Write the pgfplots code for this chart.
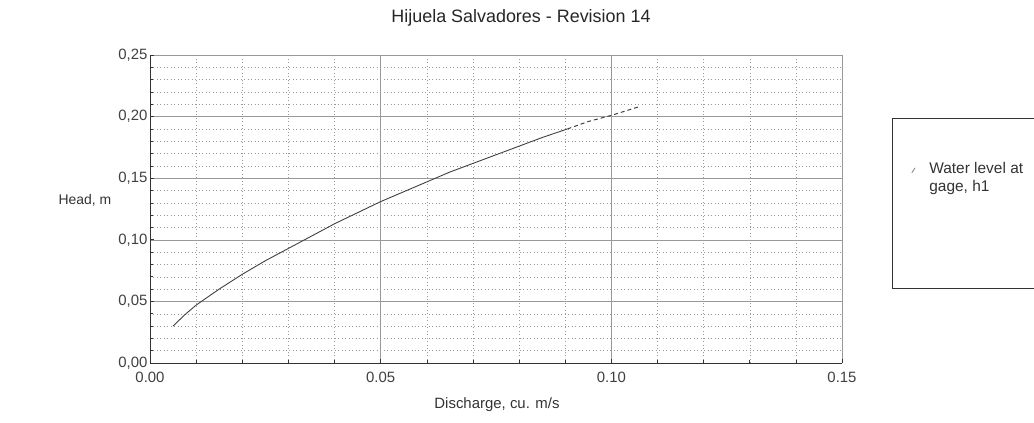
\documentclass[border=0pt]{standalone}
\usepackage{pgfplots}
\pgfplotsset{compat=1.18}
\usepackage{fontspec}
\setmainfont{Liberation Sans}
\begin{document}
\begin{tikzpicture}
\useasboundingbox (0,0) rectangle (1034bp,423bp);
\begin{axis}[
  at={(150bp,60bp)}, anchor=south west,
  width=692bp, height=308bp, scale only axis,
  xmin=0, xmax=0.15, ymin=0, ymax=0.25,
  xtick={0,0.05,0.10,0.15}, ytick={0,0.05,0.10,0.15,0.20,0.25},
  minor x tick num=4, minor y tick num=4,
  scaled ticks=false,
  axis lines*=left,
  axis line style={black!80, line width=0.8pt},
  grid=both,
  major grid style={black!40, line width=0.5pt},
  minor grid style={black!40, line width=0.4pt, dash pattern=on 1pt off 2.5pt},
  tick align=inside,
  major tick length=4bp, minor tick length=3bp,
  tick style={black!80, line width=0.6pt},
  /pgf/number format/assume math mode=true,
  xticklabel style={/pgf/number format/.cd, fixed, fixed zerofill, precision=2, /tikz/.cd, font=\fontsize{15}{17}\selectfont, text=black!75, yshift=-6bp},
  yticklabel style={/pgf/number format/.cd, fixed, fixed zerofill, precision=2, use comma, /tikz/.cd, font=\fontsize{15}{17}\selectfont, text=black!75, xshift=1bp},
  xtick pos=bottom, ytick pos=left,
  legend style={draw=none, fill=none, at={(axis description cs:1.088,0.665)}, anchor=north west,
    font=\fontsize{15.5}{18}\selectfont, text=black!80, cells={align=left}},
  legend image code/.code={\path[draw=none] (0,0) -- (0.75cm,0); \draw[black!60, solid, line width=0.6pt] (0.2cm,0.17cm) -- (0.32cm,0.35cm);},
]
\addplot[black!75, line width=0.9pt, forget plot] coordinates {
 (0.005,0.030) (0.0075,0.039) (0.010,0.047) (0.015,0.060) (0.020,0.072)
 (0.025,0.083) (0.030,0.093) (0.035,0.103) (0.040,0.113) (0.045,0.122)
 (0.050,0.131) (0.055,0.139) (0.060,0.147) (0.065,0.155) (0.070,0.162)
 (0.075,0.169) (0.080,0.176) (0.085,0.183) (0.0905,0.190)
};
\addplot[black!75, line width=1pt, dash pattern=on 4pt off 3pt] coordinates {
 (0.0905,0.190) (0.095,0.196) (0.100,0.201) (0.106,0.208)
};
\addlegendentry{Water level at\\gage, h1}
\end{axis}
\node[font=\fontsize{18}{21}\selectfont, text=black!85] at (521bp,405bp) {Hijuela Salvadores - Revision 14};
\node[font=\fontsize{14}{16}\selectfont, text=black!80] at (85bp,223bp) {Head, m};
\node[font=\fontsize{15}{17}\selectfont, text=black!80] at (497bp,18bp) {Discharge, cu. m/s};
\draw[black!80, line width=0.8pt] (1040bp,305bp) -- (892bp,305bp) -- (892bp,135bp) -- (1040bp,135bp);
\end{tikzpicture}
\end{document}
